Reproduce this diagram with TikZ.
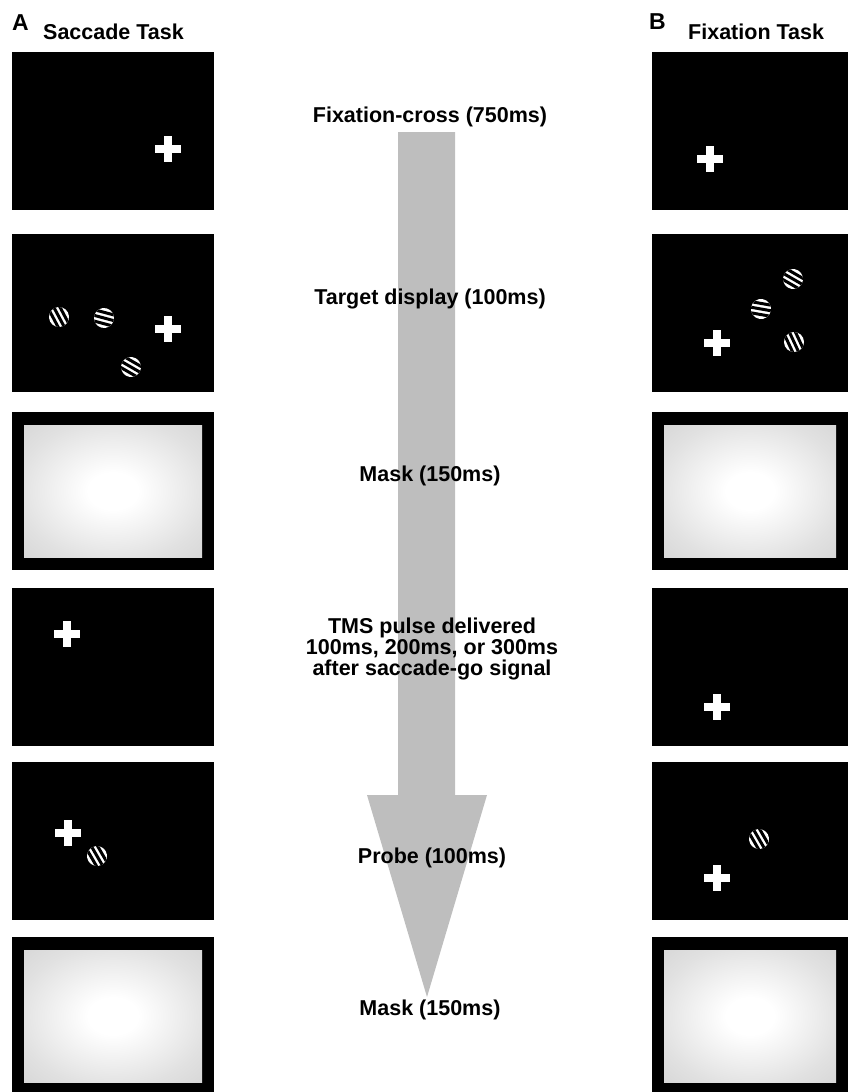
\documentclass[tikz,border=0pt]{standalone}
\usepackage{fontspec}
\setmainfont{Liberation Sans}
\definecolor{arrowgray}{RGB}{190,190,190}
\definecolor{maskmid}{RGB}{225,225,225}
\definecolor{maskout}{RGB}{200,200,200}
\pgfdeclareradialshading{maskshade}{\pgfpoint{0bp}{0bp}}{color(0bp)=(white); color(7bp)=(white); color(27bp)=(maskmid); color(50bp)=(maskout)}
\tikzset{
  panel/.style={fill=black},
  lbl/.style={font=\fontsize{21.5}{26}\selectfont\bfseries, inner sep=0pt, anchor=base, align=center},
  hdr/.style={font=\fontsize{21.5}{26}\selectfont\bfseries, inner sep=0pt, anchor=base west},
  letter/.style={font=\fontsize{23}{27}\selectfont\bfseries, inner sep=0pt, anchor=base west},
}
\newcommand\plusmark[2]{\fill[white] (#1-13,#2-4) rectangle (#1+13,#2+4); \fill[white] (#1-4,#2-13) rectangle (#1+4,#2+13);}
\newcommand\gratingat[3]{\begin{scope}[shift={(#1,#2)}, rotate=#3]
  \clip (0,0) circle (10);
  \fill[white] (-11,-11) rectangle (11,11);
  \foreach \o in {-5.5,0,5.5} {\fill[black] (-11,\o-1.5) rectangle (11,\o+1.5);}
\end{scope}}
\newcommand\blackpanel[3]{\fill[panel] (#1,#3) rectangle (#2,#3+158);}
\newcommand\maskpanel[3]{\fill[panel] (#1,#3) rectangle (#2,#3+158);
  \shade[shading=maskshade] (#1+12,#3+13) rectangle (#2-12,#3+158-13);}
\begin{document}
\begin{tikzpicture}[x=1pt,y=-1pt]
\useasboundingbox (0,0) rectangle (848,1092);
% arrow
\fill[arrowgray] (398,132) -- (455,132) -- (455,795) -- (487,795) -- (427,997) -- (367,795) -- (398,795) -- cycle;
% headers
\node[letter] (la) at (12,30) {A};
\node[hdr] (ha) at (43,39) {Saccade Task};
\node[letter] (lb) at (649,29) {B};
\node[hdr] (hb) at (688,39) {Fixation Task};
% left column
\blackpanel{12}{214}{52}
\plusmark{168}{149}
\blackpanel{12}{214}{234}
\gratingat{59}{317}{-62}
\gratingat{104}{318}{-15}
\gratingat{131}{367}{-30}
\plusmark{168}{329}
\maskpanel{12}{214}{412}
\blackpanel{12}{214}{588}
\plusmark{67}{634}
\blackpanel{12}{214}{762}
\plusmark{68}{833}
\gratingat{97}{856}{-60}
\maskpanel{12}{214}{937}
% right column
\blackpanel{652}{848}{52}
\plusmark{710}{159}
\blackpanel{652}{848}{234}
\gratingat{793}{279}{-30}
\gratingat{761}{309}{-10}
\gratingat{794}{342}{-65}
\plusmark{717}{343}
\maskpanel{652}{848}{412}
\blackpanel{652}{848}{588}
\plusmark{717}{707}
\blackpanel{652}{848}{762}
\gratingat{759}{839}{-60}
\plusmark{717}{878}
\maskpanel{652}{848}{937}
% centre labels
\node[lbl] (t1) at (430,122) {Fixation-cross (750ms)};
\node[lbl] (t2) at (430,304) {Target display (100ms)};
\node[lbl] (t3) at (430,481) {Mask (150ms)};
\node[lbl] (t4a) at (432,633) {TMS pulse delivered};
\node[lbl] (t4b) at (432,654) {100ms, 200ms, or 300ms};
\node[lbl] (t4c) at (432,675) {after saccade-go signal};
\node[lbl] (t5) at (432,863) {Probe (100ms)};
\node[lbl] (t6) at (430,1015) {Mask (150ms)};
\end{tikzpicture}
\end{document}
